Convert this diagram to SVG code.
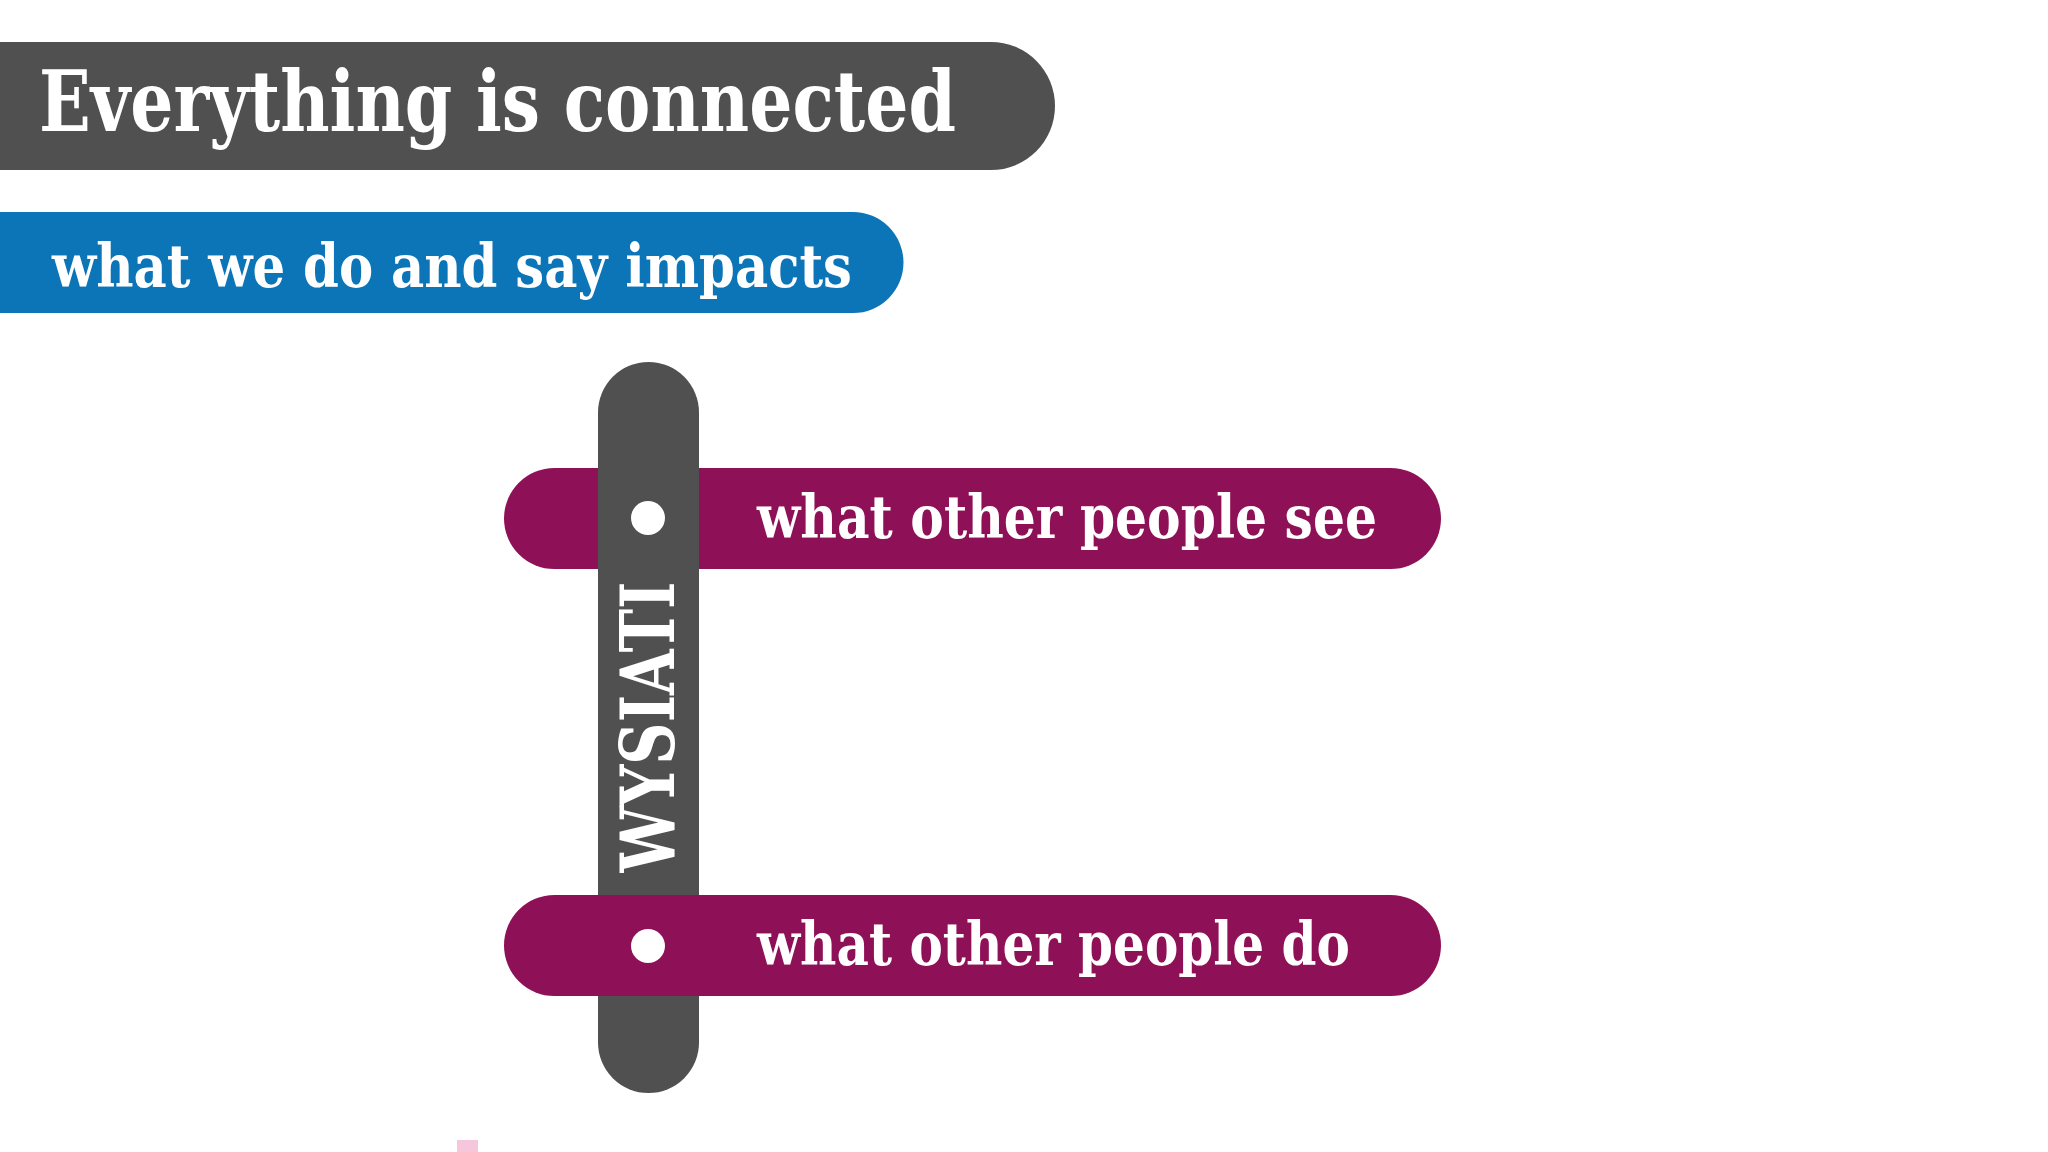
<svg xmlns="http://www.w3.org/2000/svg" width="2048" height="1152" viewBox="0 0 2048 1152">
<style>
.t{font-family:"DejaVu Serif","Liberation Serif",serif;font-weight:bold;fill:#fff}
.mag{fill:#8E1157}
</style>
<rect width="2048" height="1152" fill="#fff"/>
<g id="title"><path d="M0 42H991a64 64 0 0 1 0 128H0Z" fill="#505050"/>
<text class="t" x="39" y="131" font-size="84" textLength="917" lengthAdjust="spacingAndGlyphs">Everything is connected</text></g>
<g id="subtitle"><path d="M0 212H853a50.5 50.5 0 0 1 0 101H0Z" fill="#0B75B8"/>
<text class="t" x="52" y="287" font-size="60" textLength="800" lengthAdjust="spacingAndGlyphs">what we do and say impacts</text></g>
<g id="see"><rect class="mag" x="504" y="468" width="937" height="101" rx="50.5"/></g>
<g id="wysiati"><rect x="598" y="362" width="101" height="731" rx="50.5" fill="#505050"/>
<text class="t" transform="translate(674 727) rotate(-90)" x="0" y="0" text-anchor="middle" font-size="74" textLength="291" lengthAdjust="spacingAndGlyphs">WYSIATI</text>
<circle cx="648" cy="518" r="17" fill="#fff"/></g>
<g id="see-label"><text class="t" x="757" y="538" font-size="60" textLength="620" lengthAdjust="spacingAndGlyphs">what other people see</text></g>
<g id="do"><rect class="mag" x="504" y="895" width="937" height="101" rx="50.5"/>
<circle cx="648" cy="946" r="17" fill="#fff"/>
<text class="t" x="757" y="965" font-size="60" textLength="593" lengthAdjust="spacingAndGlyphs">what other people do</text></g>
<g id="connectors"></g>
<rect x="457" y="1140" width="21" height="12" fill="#F5C6DC"/>
</svg>
